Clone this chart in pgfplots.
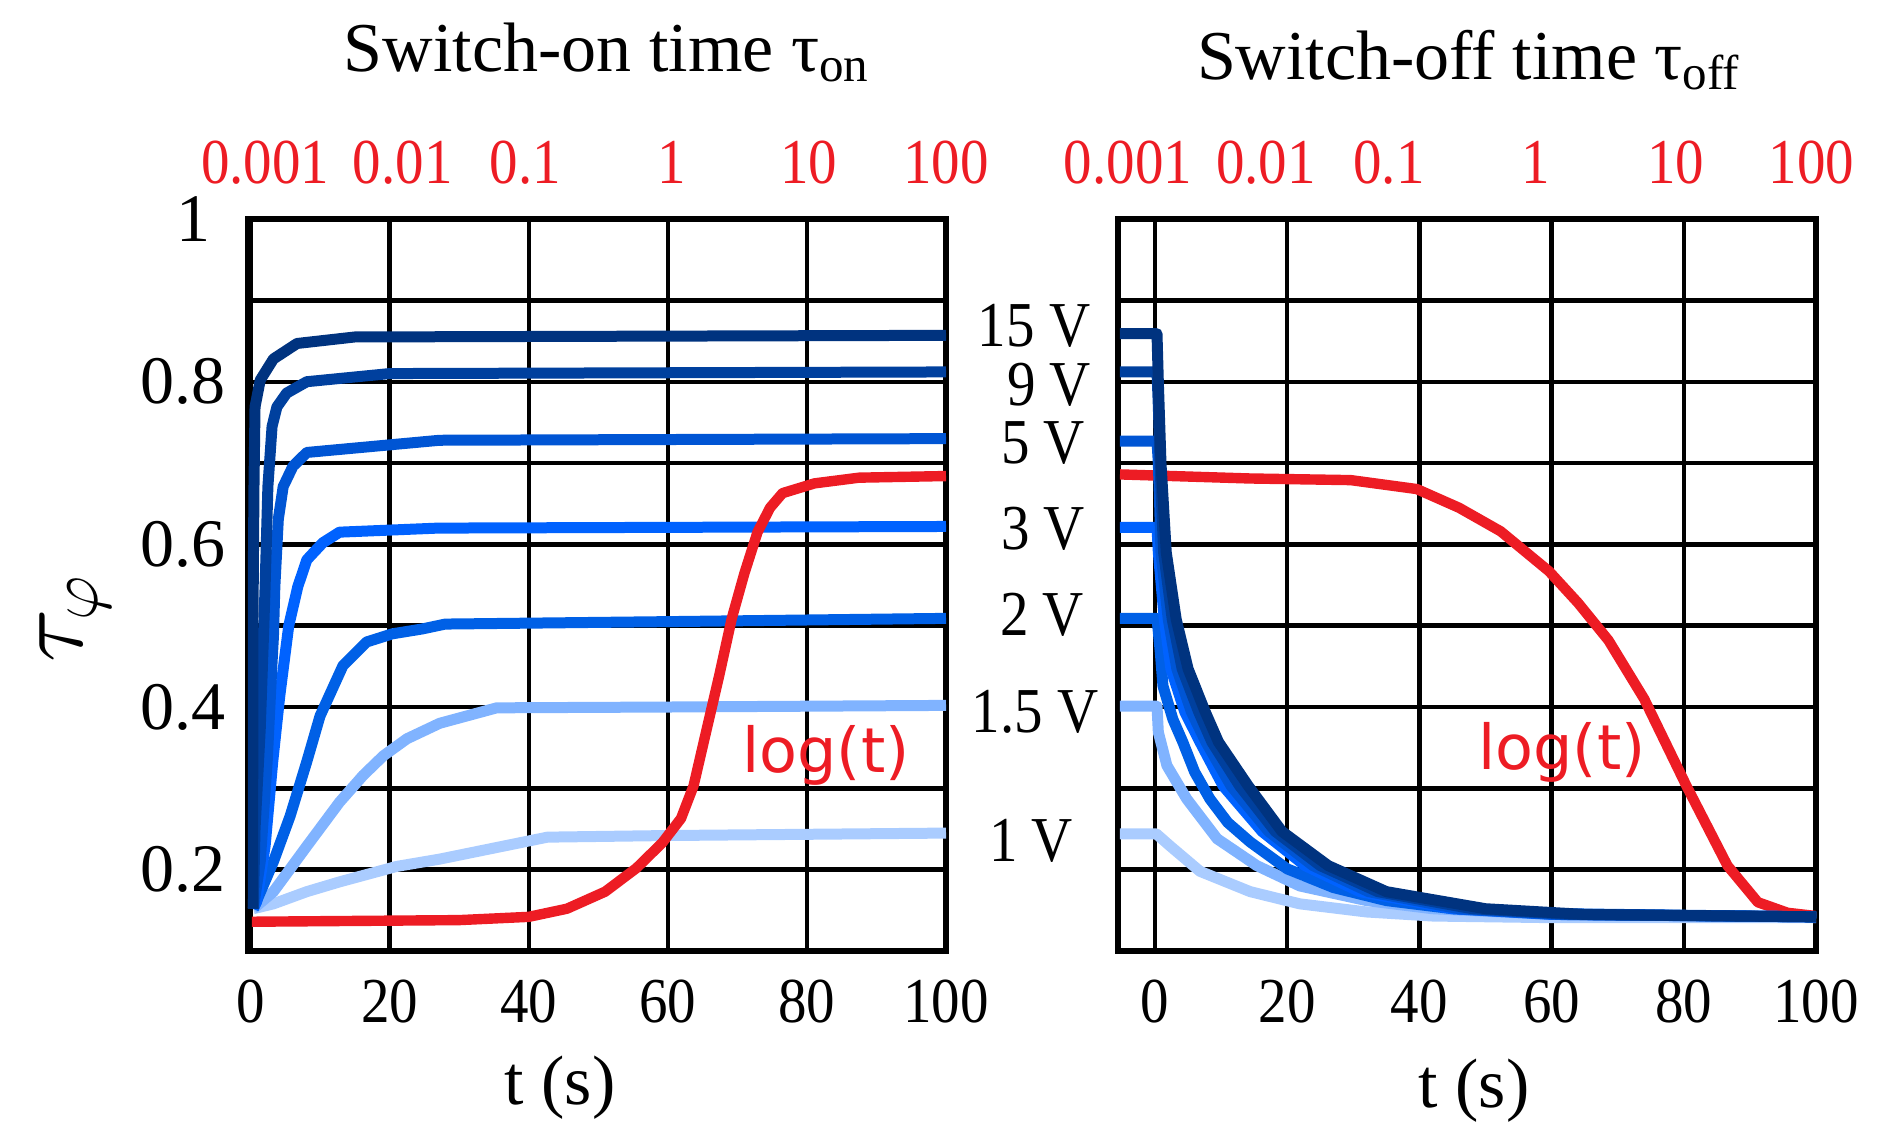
\documentclass[border=0pt]{standalone}
\usepackage{fontspec}
\setmainfont{Liberation Serif}
\newfontfamily\narrowfont{Liberation Serif}[FakeStretch=0.89]
\newfontfamily\logfont{DejaVu Sans}
\usepackage{pgfplots}
\pgfplotsset{compat=1.18}
\definecolor{cA}{RGB}{0,51,127}
\definecolor{cB}{RGB}{0,64,158}
\definecolor{cC}{RGB}{0,85,212}
\definecolor{cD}{RGB}{0,98,255}
\definecolor{cE}{RGB}{0,96,230}
\definecolor{cF}{RGB}{128,179,255}
\definecolor{cG}{RGB}{170,204,255}
\definecolor{cR}{RGB}{237,28,36}
\pgfplotsset{
  panel/.style={
    scale only axis, width=174.5bp, height=183bp, anchor=south west,
    ymin=0.1, ymax=1.0,
    ytick={0.1,0.2,0.3,0.4,0.5,0.6,0.7,0.8,0.9,1.0},
    xtick={0,20,40,60,80,100},
    xticklabels={0,20,40,60,80,100},
    grid=major, major grid style={black, line width=1.1bp},
    axis line style={black, line width=1.4bp},
    tick style={draw=none},
    xticklabel style={font=\narrowfont\fontsize{16bp}{16bp}\selectfont, anchor=base, yshift=-17.75bp, inner sep=0pt},
    every axis plot/.append style={line width=2.75bp, line join=round, no markers},
  },
  toplab/.style={
    scale only axis, width=174.5bp, height=183bp, anchor=south west,
    ymin=0.1, ymax=1.0, hide y axis, axis x line*=top,
    axis line style={draw=none}, tick style={draw=none},
    xticklabel style={font=\narrowfont\fontsize{16bp}{16bp}\selectfont, text=cR, anchor=base, yshift=9bp, inner sep=0pt},
  },
}
\begin{document}
\begin{tikzpicture}
\path[use as bounding box] (0,0) rectangle (472.25bp,-285.75bp);
% ---------------- left panel: switch-on
\begin{axis}[panel, at={(62bp,-237.75bp)}, xmin=-0.36, xmax=100,
  yticklabels={,0.2,,0.4,,0.6,,0.8,,1\hspace*{3.75bp}},
  yticklabel style={font=\fontsize{17bp}{17bp}\selectfont, anchor=east, inner sep=0pt, xshift=-5.5bp}]
\addplot[cG] coordinates {(0.4,0.152)(3.3,0.158)(8.1,0.173)(12.8,0.185)(21,0.204)(27.2,0.213)(42.7,0.240)(60,0.242)(100,0.245)};
\addplot[cF] coordinates {(0.4,0.152)(3.3,0.173)(8.1,0.229)(12.8,0.283)(16.2,0.316)(19.1,0.340)(22.5,0.361)(27.2,0.380)(35.4,0.399)(60,0.400)(100,0.402)};
\addplot[cE] coordinates {(0.4,0.152)(3.3,0.210)(5.7,0.266)(8.1,0.333)(10,0.389)(13.3,0.451)(16.7,0.480)(20.4,0.490)(24.7,0.496)(28,0.502)(60,0.505)(100,0.509)};
\addplot[cD] coordinates {(0.4,0.152)(0.9,0.161)(2.1,0.229)(3.2,0.333)(4.2,0.413)(5.5,0.500)(6.8,0.548)(8.1,0.581)(10.4,0.602)(12.8,0.615)(27,0.620)(100,0.622)};
\addplot[cC] coordinates {(0.4,0.152)(1.4,0.210)(2.4,0.333)(3.1,0.455)(3.3,0.487)(3.5,0.548)(4,0.631)(4.7,0.671)(6.1,0.696)(8.1,0.713)(27.2,0.728)(100,0.730)};
\addplot[cB] coordinates {(0.4,0.152)(0.65,0.250)(1.4,0.373)(1.9,0.496)(2.1,0.548)(2.5,0.671)(3.1,0.745)(3.8,0.769)(5.2,0.786)(8.1,0.800)(20,0.810)(100,0.812)};
\addplot[cA] coordinates {(0.3,0.152)(0.35,0.500)(0.5,0.671)(0.65,0.769)(1.4,0.802)(3.3,0.828)(6.7,0.847)(15,0.855)(100,0.857)};
\addplot[cR, line width=2.6bp] coordinates {(0.2,0.136)(30,0.138)(40,0.142)(45.5,0.152)(51,0.173)(55.5,0.202)(59.2,0.233)(61.9,0.263)(63.7,0.303)(65.6,0.373)(67.4,0.439)(69.2,0.509)(71,0.564)(72.9,0.615)(74.7,0.645)(76.5,0.663)(81.1,0.675)(87.5,0.682)(100,0.684)};
\end{axis}
\begin{axis}[toplab, at={(62bp,-237.75bp)}, xmin=-0.36, xmax=100,
  xtick={2.1,21.9,39.5,60.6,80.3,100}, xticklabels={0.001,0.01,0.1,1,10,100}]
\end{axis}
% ---------------- right panel: switch-off
\begin{axis}[panel, at={(279.5bp,-237.75bp)}, xmin=-5.6, xmax=100,
  yticklabels={}]
\addplot[cR, line width=2.6bp] coordinates {(-5.3,0.686)(14.4,0.681)(29.6,0.679)(39.6,0.668)(46,0.645)(52.3,0.616)(59.6,0.567)(64,0.528)(68.6,0.482)(74,0.410)(80.4,0.303)(86.6,0.205)(91.2,0.160)(95.7,0.147)(100,0.143)};
\addplot[cG] coordinates {(-5.3,0.244)(0.2,0.244)(2.3,0.229)(6.8,0.198)(14.4,0.173)(21.9,0.158)(32,0.148)(42,0.143)(60,0.141)(100,0.141)};
\addplot[cF] coordinates {(-5.3,0.401)(0.3,0.401)(0.5,0.369)(1.8,0.328)(4.8,0.287)(9.4,0.238)(15.4,0.205)(21.9,0.180)(32,0.162)(42,0.152)(60,0.145)(100,0.142)};
\addplot[cE] coordinates {(-5.3,0.509)(0.3,0.509)(0.8,0.467)(1.2,0.426)(2.7,0.385)(4.2,0.357)(6,0.320)(8.3,0.287)(11,0.258)(14.4,0.234)(20,0.201)(27,0.178)(35,0.162)(45,0.152)(60,0.146)(100,0.142)};
\addplot[cD] coordinates {(-5.3,0.621)(0.3,0.621)(0.5,0.590)(1.4,0.508)(2.4,0.447)(4.5,0.394)(6.8,0.357)(10.3,0.303)(16.2,0.247)(22.7,0.205)(31,0.173)(45,0.152)(60,0.145)(100,0.142)};
\addplot[cC] coordinates {(-5.3,0.727)(0.3,0.727)(0.5,0.700)(0.7,0.650)(0.9,0.590)(2,0.508)(3.3,0.447)(5.5,0.394)(7.7,0.357)(11.5,0.303)(17.2,0.247)(23.9,0.205)(32.3,0.173)(46,0.152)(61,0.145)(100,0.142)};
\addplot[cB] coordinates {(-5.3,0.812)(0.3,0.812)(0.5,0.770)(0.8,0.690)(1.3,0.590)(2.6,0.508)(4.1,0.447)(6.6,0.394)(8.6,0.357)(12.8,0.303)(18.2,0.247)(25,0.205)(33.7,0.173)(48,0.152)(63,0.145)(100,0.142)};
\addplot[cA] coordinates {(-5.3,0.859)(0.3,0.859)(0.5,0.800)(0.9,0.700)(1.7,0.590)(3.2,0.508)(5,0.447)(7.6,0.394)(9.6,0.357)(14.1,0.303)(19.2,0.247)(26.2,0.205)(35,0.173)(50,0.152)(65,0.145)(100,0.142)};
\end{axis}
\begin{axis}[toplab, at={(279.5bp,-237.75bp)}, xmin=-5.6, xmax=100,
  xtick={-4.1,16.8,35.4,57.6,78.8,99.3}, xticklabels={0.001,0.01,0.1,1,10,100}]
\end{axis}
% ---------------- texts
\node[anchor=base, inner sep=0pt, font=\fontsize{17.5bp}{21bp}\selectfont] at (151.75bp,-17.75bp) {Switch-on time τ\textsubscript{on}};
\node[anchor=base, inner sep=0pt, font=\fontsize{17.5bp}{21bp}\selectfont] at (367.25bp,-19.75bp) {Switch-off time τ\textsubscript{off}};
\node[anchor=base, inner sep=0pt, font=\fontsize{17.5bp}{21bp}\selectfont] at (140bp,-276bp) {t (s)};
\node[anchor=base, inner sep=0pt, font=\fontsize{17.5bp}{21bp}\selectfont] at (368.5bp,-276.75bp) {t (s)};
\node[rotate=90, inner sep=0pt, font=\fontsize{24bp}{24bp}\selectfont] at (18.75bp,-154.5bp) {$\tau_\varphi$};
\begin{scope}[every node/.style={anchor=base, inner sep=0pt, font=\narrowfont\fontsize{16bp}{16bp}\selectfont}]
\node at (258.5bp,-86.6bp) {15 V};
\node at (262.25bp,-101.4bp) {9 V};
\node at (260.75bp,-115.75bp) {5 V};
\node at (260.75bp,-137.25bp) {3 V};
\node at (260.5bp,-158.75bp) {2 V};
\node at (258.75bp,-183bp) {1.5 V};
\node at (257.75bp,-215.25bp) {1 V};
\end{scope}
\node[anchor=base, inner sep=0pt, text=cR, font=\logfont\fontsize{15.5bp}{15.5bp}\selectfont] at (206.5bp,-193bp) {log(t)};
\node[anchor=base, inner sep=0pt, text=cR, font=\logfont\fontsize{15.5bp}{15.5bp}\selectfont] at (390.5bp,-192.25bp) {log(t)};
\end{tikzpicture}
\end{document}
